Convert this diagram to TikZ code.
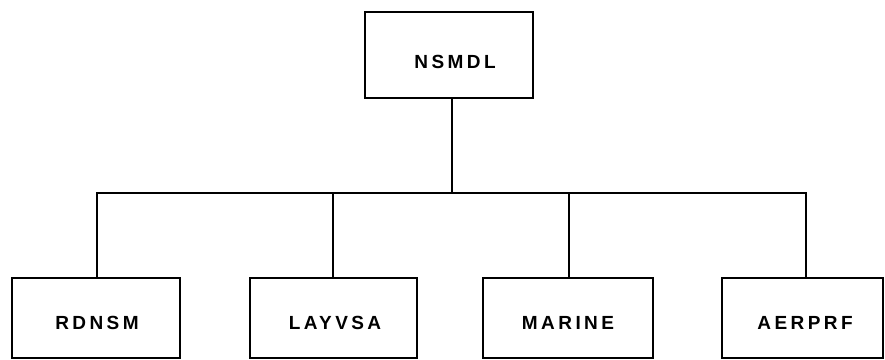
\documentclass[tikz,border=0pt]{standalone}
\usepackage{fontspec}
\setmainfont{Liberation Sans}[LetterSpace=18]
\begin{document}
\begin{tikzpicture}[x=1pt,y=-1pt,
  box/.style={draw,line width=1.6pt,rectangle},
  lbl/.style={font=\fontsize{19}{22}\selectfont\bfseries},
  link/.style={line width=1.4pt}]
\useasboundingbox (0,0) rectangle (885,359);
\draw[box] (365,12) rectangle (533,98);
\node[lbl] (top) at (455,62) {NSMDL};
\coordinate (topb) at (452,98);
\draw[box] (12,278) rectangle (180,358);
\node[lbl] (a) at (97,323) {RDNSM};
\draw[box] (250,278) rectangle (417,358);
\node[lbl] (b) at (335,323) {LAYVSA};
\draw[box] (483,278) rectangle (653,358);
\node[lbl] (c) at (568,323) {MARINE};
\draw[box] (722,278) rectangle (883,358);
\node[lbl] (d) at (805,323) {AERPRF};
\coordinate (bus) at (452,193);
\coordinate (ta) at (97,278);
\coordinate (tb) at (333,278);
\coordinate (tc) at (569,278);
\coordinate (td) at (806,278);
\draw[link] (topb) -- (bus);
\draw[link] (ta) |- (bus) -| (td);
\draw[link] (tb) -- (tb |- bus);
\draw[link] (tc) -- (tc |- bus);
\end{tikzpicture}
\end{document}
